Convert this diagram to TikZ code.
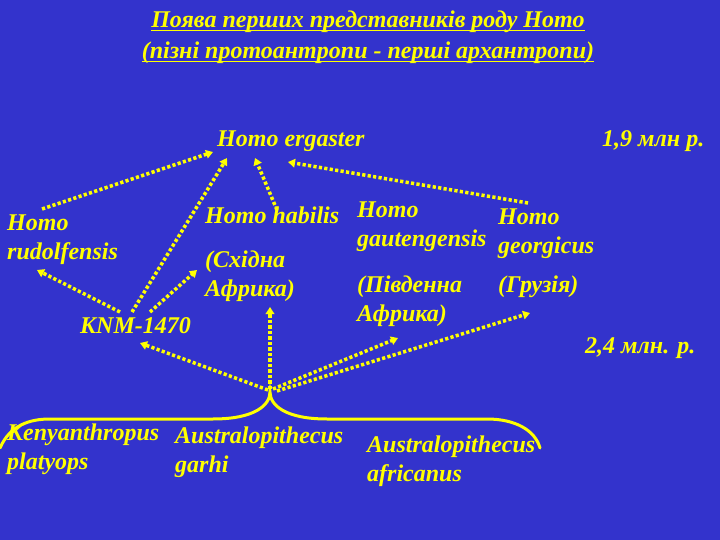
\documentclass[tikz,border=0pt]{standalone}
\usepackage{fontspec}
\setmainfont{Liberation Serif}
\usetikzlibrary{arrows.meta,calc}
\definecolor{bgblue}{RGB}{51,51,204}
\definecolor{ylw}{RGB}{255,255,0}
\newcommand\myul[1]{\setbox0\hbox{#1}\rlap{\rule[-3.5pt]{\wd0}{1.8pt}}\box0}
\newcommand\twol[2]{\begin{tabular}[t]{@{}l@{}}#1\\#2\end{tabular}}
\begin{document}
\begin{tikzpicture}[x=1pt,y=-1pt,
  lbl/.style={anchor=base west,inner sep=0pt,text=ylw,font=\fontsize{24}{29}\selectfont\bfseries\itshape},
  dotarrow/.style={draw=ylw,line width=3.5pt,dash pattern=on 3.2pt off 2.3pt,-{Triangle[length=7pt,width=8.5pt]}},
  bracestyle/.style={draw=ylw,line width=3pt,line cap=round}]
\fill[bgblue] (0,0) rectangle (720,540);
\useasboundingbox (0,0) rectangle (720,540);
% title
\node[anchor=base,inner sep=0pt,text=ylw,font=\fontsize{24}{31}\selectfont\bfseries\itshape] (title) at (368,28)
  {\begin{tabular}[t]{@{}c@{}}\myul{Поява перших представників роду Homo}\\\myul{(пізні протоантропи - перші архантропи)}\end{tabular}};
% labels
\node[lbl] (erg) at (217,147) {Homo ergaster};
\node[lbl] (my19) at (602,147) {1,9 млн р.};
\node[lbl] (hab) at (205,223) {Homo habilis};
\node[lbl] (rud) at (7,230) {\twol{Homo}{rudolfensis}};
\node[lbl] (ea) at (205,267) {\twol{(Східна}{Африка)}};
\node[lbl] (knm) at (80,333) {KNM-1470};
\node[lbl] (gau) at (357,218) {\twol{Homo}{gautengensis}};
\node[lbl] (sa) at (357,292) {\twol{(Південна}{Африка)}};
\node[lbl] (geo) at (498,225) {\twol{Homo}{georgicus}};
\node[lbl] (gr) at (498,292) {(Грузія)};
\node[lbl] (my24) at (585,353) {2,4 млн. р.};
\node[lbl] (ken) at (7,440) {\twol{Kenyanthropus}{platyops}};
\node[lbl] (gar) at (175,443) {\twol{Australopithecus}{garhi}};
\node[lbl] (afr) at (367,452) {\twol{Australopithecus}{africanus}};
% brace
\coordinate (j) at (270,392);
\draw[bracestyle] (0,448) .. controls (10,425) and (30,419) .. (50,419) -- (213,419)
  .. controls (255,419) and (270,405) .. (j)
  .. controls (270,405) and (285,419) .. (327,419) -- (487,419)
  .. controls (515,419) and (535,430) .. (540,448);
% connectors
\draw[dotarrow] ([shift={(35,-21)}]rud.base west) -- ([shift={(-4,5)}]erg.base west);
\draw[dotarrow] ([shift={(40,-21)}]knm.base west) -- ([shift={(30,40)}]rud.base west);
\draw[dotarrow] ([shift={(52,-21)}]knm.base west) -- ([shift={(10,11)}]erg.base west);
\draw[dotarrow] ([shift={(70,-21)}]knm.base west) -- ([shift={(-8,3)}]ea.base west);
\draw[dotarrow] ([shift={(72,-13)}]hab.base west) -- ([shift={(38,11)}]erg.base west);
\draw[dotarrow] ([shift={(30,-22)}]geo.base west) -- ([shift={(71,15)}]erg.base west);
\draw[dotarrow] ([shift={(-2,-2)}]j) -- ([shift={(60,10)}]knm.base west);
\draw[dotarrow] ([shift={(0,-3)}]j) -- ([shift={(65,40)}]ea.base west);
\draw[dotarrow] ([shift={(3,-3)}]j) -- ([shift={(41,46)}]sa.base west);
\draw[dotarrow] ([shift={(7,-1)}]j) -- ([shift={(32,21)}]gr.base west);
\end{tikzpicture}
\end{document}
